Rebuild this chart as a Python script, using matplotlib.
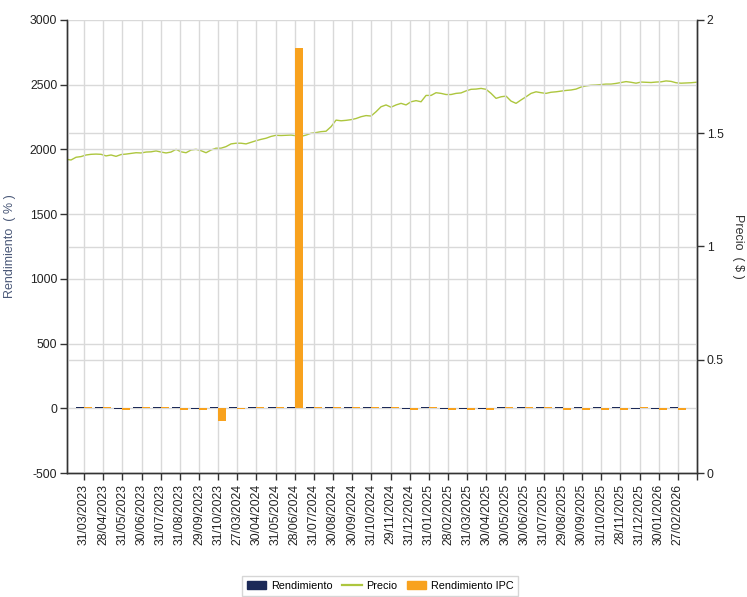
import numpy as np
import matplotlib
matplotlib.use("Agg")
import matplotlib.pyplot as plt
from matplotlib.patches import Patch
from matplotlib.lines import Line2D
from matplotlib import font_manager

names = {f.name for f in font_manager.fontManager.ttflist}
NARROW = ["Liberation Sans Narrow", "Liberation Sans"] if "Liberation Sans Narrow" in names else ["Liberation Sans"]
plt.rcParams["font.family"] = ["Liberation Sans", "DejaVu Sans"]
plt.rcParams["axes.unicode_minus"] = False

fechas = ["31/03/2023", "28/04/2023", "31/05/2023", "30/06/2023", "31/07/2023", "31/08/2023",
          "29/09/2023", "31/10/2023", "27/03/2024", "30/04/2024", "31/05/2024", "28/06/2024",
          "31/07/2024", "30/08/2024", "30/09/2024", "31/10/2024", "29/11/2024", "31/12/2024",
          "31/01/2025", "28/02/2025", "31/03/2025", "30/04/2025", "30/05/2025", "30/06/2025",
          "31/07/2025", "29/08/2025", "30/09/2025", "31/10/2025", "28/11/2025", "31/12/2025",
          "30/01/2026", "27/02/2026"]

rendimiento = [8, 9, -4, 8, 9, 7, -3, 9, 8, 9, 8, 9, 9, 8, 9, 9, 8, -5, 8, -4, -5, -6,
               9, 8, 9, 7, 8, 8, 7, -5, -4, 8]

rendimiento_ipc = [12, 10, -12, 10, 10, -10, -10, -100, -8, 10, 10, 2780, 10, 10, 10, 10,
                   10, -10, 10, -10, -10, -10, 10, 10, 10, -10, -10, -10, -10, 10, -10, -10]

precio = [1.385, 1.382, 1.394, 1.397, 1.404, 1.407, 1.408, 1.407, 1.400, 1.404,
          1.398, 1.406, 1.408, 1.411, 1.414, 1.413, 1.417, 1.418, 1.422, 1.417,
          1.413, 1.417, 1.429, 1.418, 1.414, 1.426, 1.429, 1.423, 1.414, 1.426,
          1.434, 1.434, 1.441, 1.453, 1.456, 1.456, 1.453, 1.460, 1.467, 1.473,
          1.478, 1.486, 1.491, 1.490, 1.491, 1.492, 1.489, 1.486, 1.492, 1.500,
          1.503, 1.507, 1.509, 1.529, 1.558, 1.555, 1.557, 1.560, 1.565, 1.573,
          1.578, 1.576, 1.595, 1.617, 1.625, 1.615, 1.625, 1.632, 1.625, 1.639,
          1.644, 1.639, 1.667, 1.667, 1.679, 1.676, 1.671, 1.671, 1.676, 1.678,
          1.687, 1.694, 1.695, 1.698, 1.694, 1.676, 1.654, 1.661, 1.664, 1.642,
          1.632, 1.647, 1.661, 1.676, 1.683, 1.679, 1.676, 1.681, 1.683, 1.686,
          1.689, 1.691, 1.695, 1.704, 1.709, 1.712, 1.713, 1.715, 1.717, 1.717,
          1.720, 1.724, 1.728, 1.725, 1.721, 1.726, 1.725, 1.724, 1.726, 1.727,
          1.731, 1.729, 1.723, 1.721, 1.722, 1.723, 1.725]

C_NAVY = "#1c2a58"
C_ORANGE = "#f8a21e"
C_LINE = "#adc63e"
C_GRID = "#d9d9d9"
C_AXIS = "#333333"

fig = plt.figure(figsize=(7.47, 5.97), dpi=100)
ax = fig.add_axes([67 / 747, 1 - 473 / 597, 630 / 747, 453 / 597])
ax2 = ax.twinx()
ax.set_zorder(ax2.get_zorder() + 1)
ax.patch.set_visible(False)

n = len(fechas)
x = np.arange(n)
w = 0.42
ax.bar(x - w / 2, rendimiento, width=w, color=C_NAVY, zorder=3)
ax.bar(x + w / 2, rendimiento_ipc, width=w, color=C_ORANGE, zorder=3)

xlim = (-0.89, 32.0)
xp = np.linspace(xlim[0] - 0.05, xlim[1] - 0.05, len(precio))
ax2.plot(xp, precio, color=C_LINE, lw=1.0)

ax.set_xlim(*xlim)
ax2.set_xlim(*xlim)
ax.set_ylim(-500, 3000)
ax2.set_ylim(0, 2)
ax.set_yticks(np.arange(-500, 3001, 500))
ax2.set_yticks([0, 0.5, 1, 1.5, 2])
ax2.set_yticklabels(["0", "0.5", "1", "1.5", "2"])

ax.set_xticks(list(x) + [n])
ax.set_xticklabels(fechas + [""], rotation=90, family=NARROW, fontsize=8.8, color="#222222")

ax.set_axisbelow(True)
ax.grid(True, color=C_GRID, lw=1.0, zorder=0)
# horizontal gridlines of the right axis, drawn behind the bars
for v in [0.5, 1.0, 1.5]:
    yv = ax.transData.inverted().transform(ax2.transData.transform((0, v)))[1]
    ax.axhline(yv, color=C_GRID, lw=1.0, zorder=0)

for a in (ax, ax2):
    a.spines["top"].set_visible(False)
    for s in ("left", "right", "bottom"):
        a.spines[s].set_color(C_AXIS)
        a.spines[s].set_linewidth(1.0)
ax.tick_params(axis="both", direction="out", length=5, width=1, color=C_AXIS, pad=3)
ax.tick_params(axis="y", labelsize=8.8, labelcolor="#222222", pad=2)
ax2.tick_params(axis="y", direction="out", length=5, width=1, color=C_AXIS, labelsize=8.8,
                labelcolor="#222222", pad=2)
for lab in ax.get_yticklabels() + ax2.get_yticklabels():
    lab.set_family(NARROW)

ax.set_ylabel("Rendimiento  ( % )", color="#4a5878", fontsize=9)
ax.yaxis.set_label_coords((16 - 67) / 630, 0.5)
ax2.set_ylabel("Precio  ( $ )", color="#333333", fontsize=9, rotation=270, va="center")
ax2.yaxis.set_label_coords((738 - 67) / 630, 0.5)

handles = [Patch(facecolor=C_NAVY, edgecolor=C_NAVY),
           Line2D([0], [0], color=C_LINE, lw=1.6),
           Patch(facecolor=C_ORANGE, edgecolor=C_ORANGE)]
leg = fig.legend(handles, ["Rendimiento", "Precio", "Rendimiento IPC"], ncol=3,
                 loc="center", bbox_to_anchor=(380 / 747, 1 - 586 / 597),
                 frameon=True, fancybox=False, edgecolor="#cccccc",
                 handlelength=1.8, handleheight=0.8, columnspacing=0.9, handletextpad=0.4,
                 borderpad=0.45, prop={"family": NARROW, "size": 7.8})
leg.get_frame().set_linewidth(1.0)

fig.savefig("out.png", dpi=100, facecolor="white")
